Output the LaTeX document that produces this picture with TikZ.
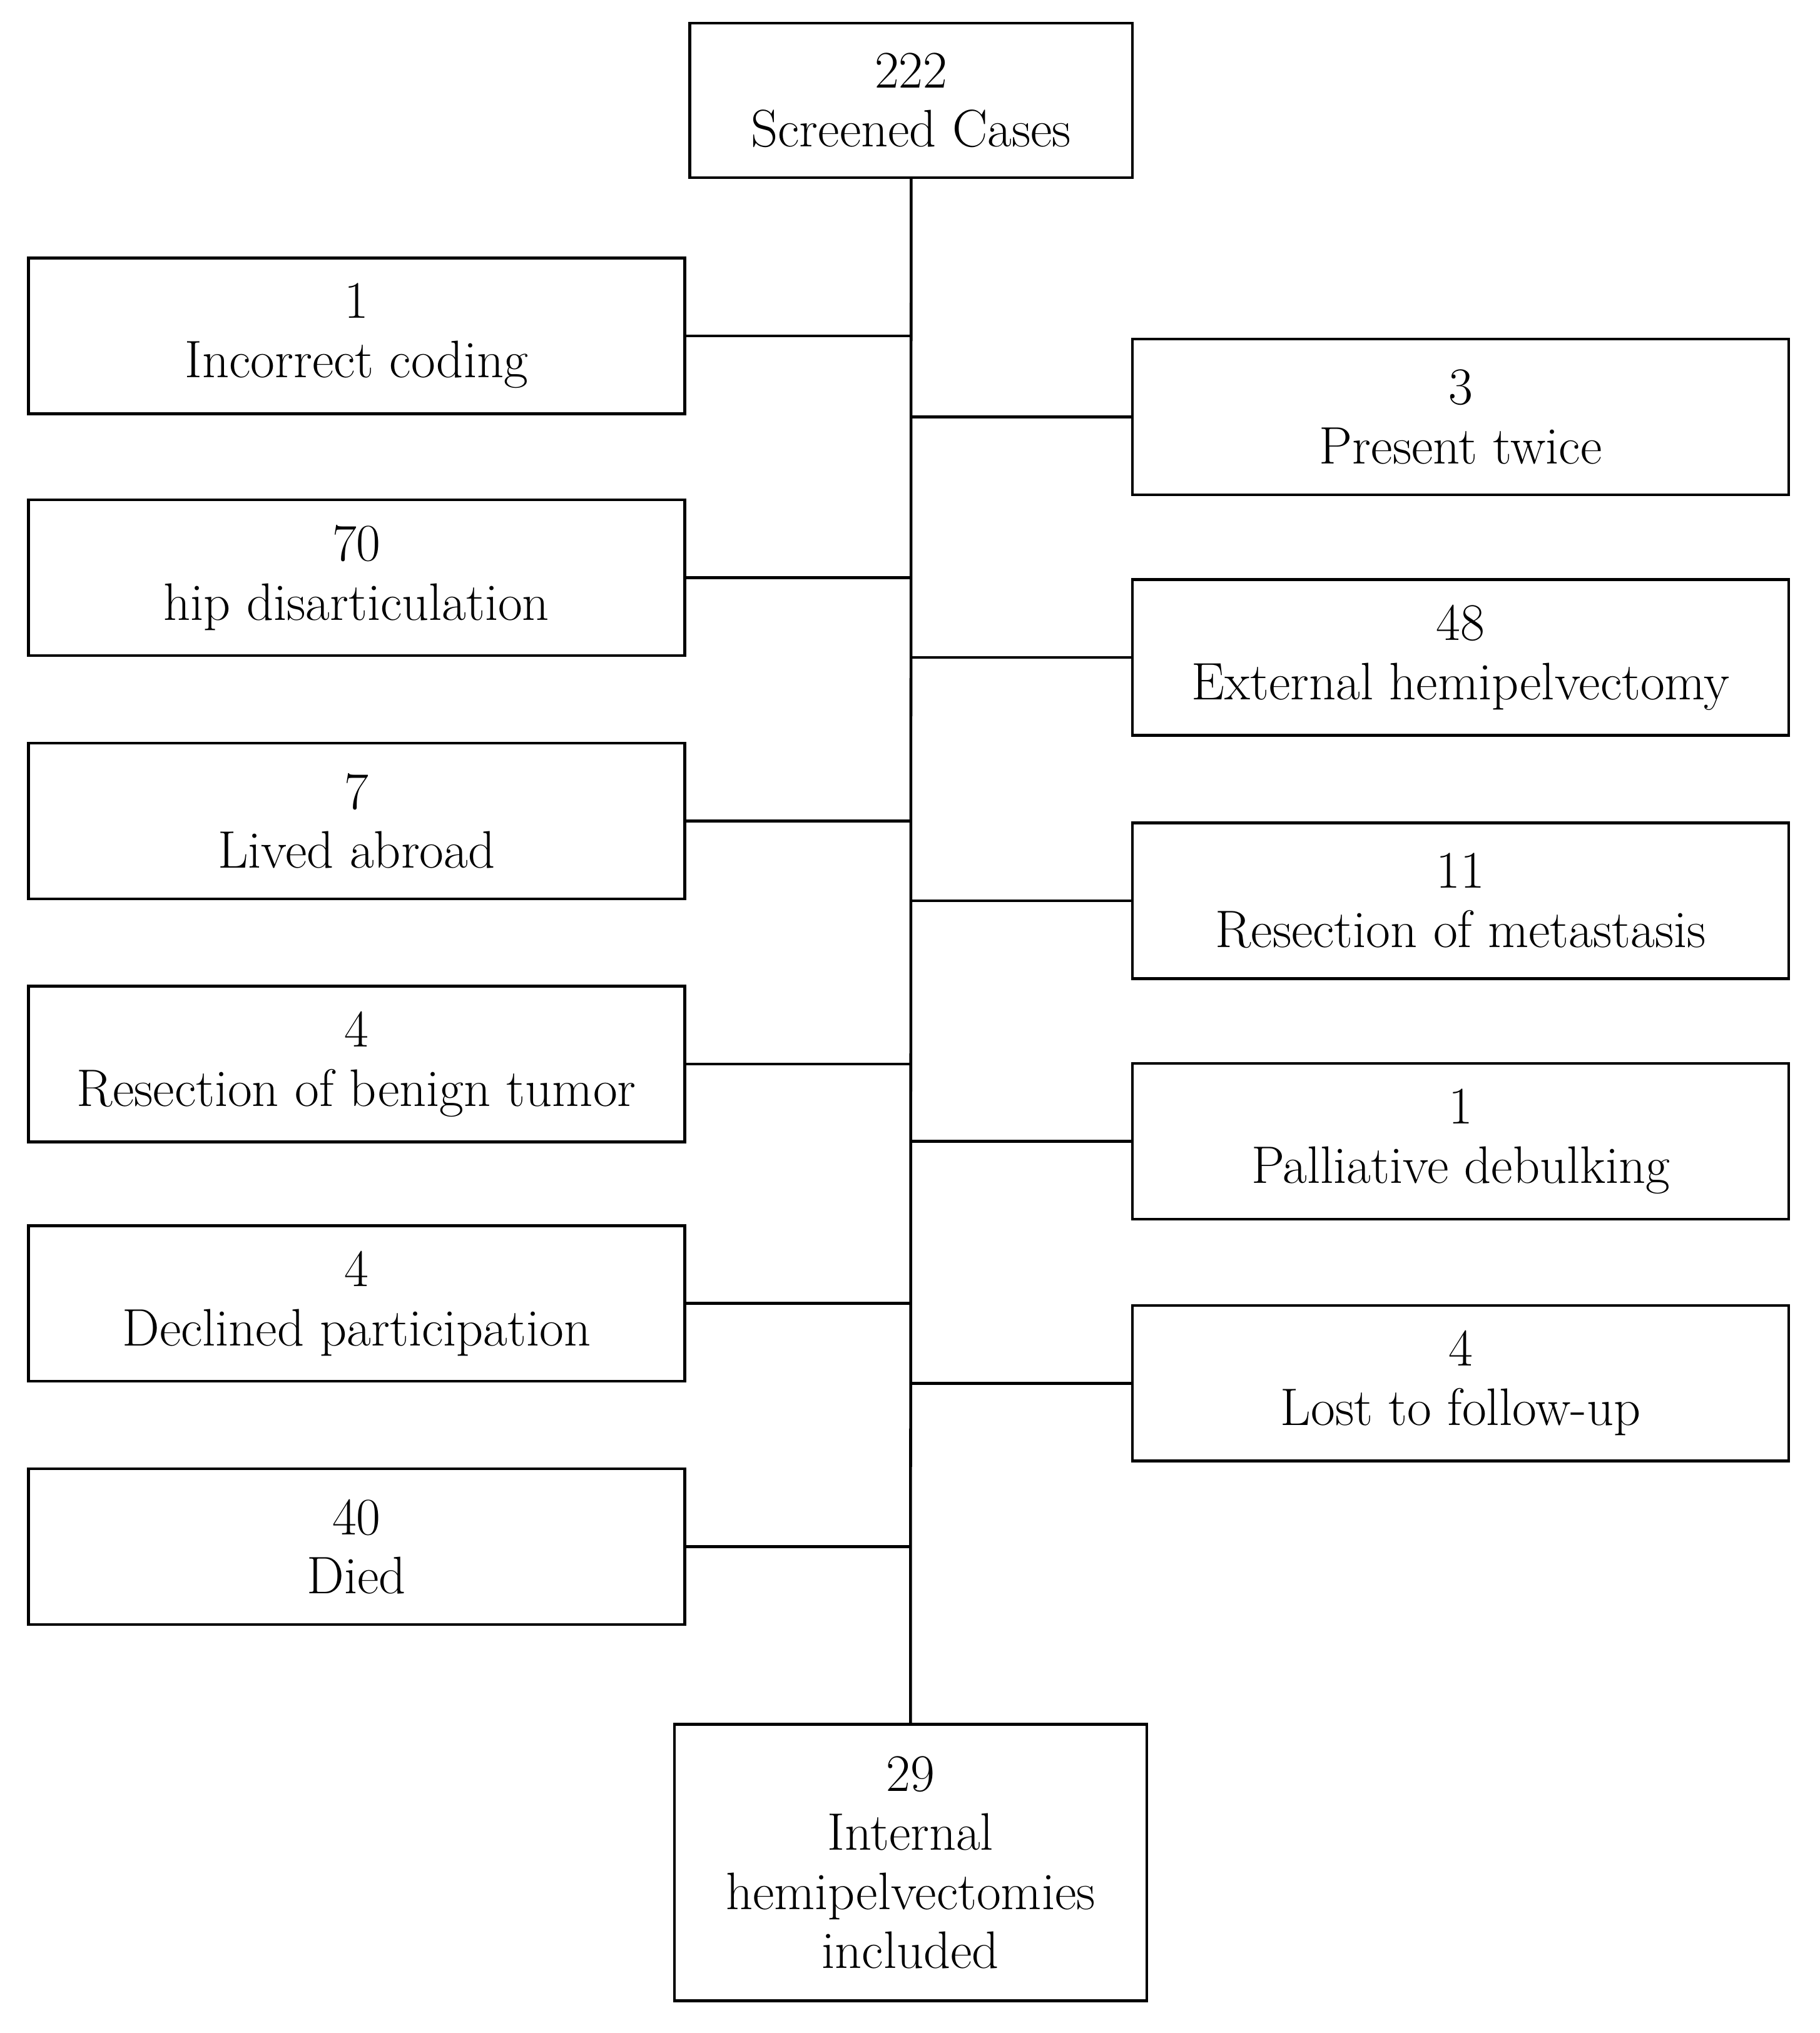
\documentclass[tikz,border=0pt]{standalone}
\begin{document}
\begin{tikzpicture}[x=1pt,y=-1pt,
  box/.style={draw,line width=2.2pt,align=center,inner sep=0pt,font=\fontsize{41}{46}\selectfont},
  conn/.style={line width=2.2pt}]
\useasboundingbox (0,0) rectangle (1414,1580);
\node[box,minimum width=344pt,minimum height=120pt] (top) at (708,78) {222\\Screened Cases};
\node[box,minimum width=367pt,minimum height=215pt] (bot) at (707.5,1447.5) {29\\Internal\\hemipelvectomies\\included};
\draw[conn] (top.south) -- (bot.north);
\foreach \n/\y/\t [count=\i] in {1/261/Incorrect coding, 70/449/hip disarticulation, 7/638/Lived abroad, 4/827/Resection of benign tumor, 4/1013/Declined participation, 40/1202/Died}{
  \node[box,minimum width=510pt,minimum height=121pt] (L\i) at (277,\y) {\n\\\t};
  \coordinate (LC\i) at (708,\y);
  \draw[conn] (L\i.east) -- (LC\i);
}
\foreach \n/\y/\t [count=\i] in {3/324/Present twice, 48/511/External hemipelvectomy, 11/700/Resection of metastasis, 1/887/Palliative debulking, 4/1075/Lost to follow-up}{
  \node[box,minimum width=510pt,minimum height=121pt] (R\i) at (1135,\y) {\n\\\t};
  \coordinate (RC\i) at (708,\y);
  \draw[conn] (RC\i) -- (R\i.west);
}
\end{tikzpicture}
\end{document}
